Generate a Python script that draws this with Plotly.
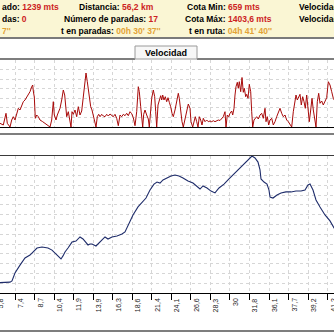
import plotly.graph_objects as go

# ---------------------------------------------------------------------------
# Route data: point index along the track, elevation (m) and speed (km/h)
# ---------------------------------------------------------------------------
elev_idx = [-10, 0, 6, 10, 12, 15, 20, 25, 30, 34, 37, 42, 48, 52, 55, 58, 61, 63,
            65, 68, 72, 76, 80, 83, 86, 88, 90, 92, 96, 100, 105, 108, 112, 117,
            122, 125, 128, 133, 138, 142, 146, 150, 154, 157, 160, 163, 167, 171,
            175, 179, 183, 188, 193, 197, 200, 203, 207, 211, 215, 219, 224, 229,
            234, 239, 244, 249, 252, 255, 258, 260, 261, 264, 267, 269, 270, 273,
            277, 281, 286, 291, 296, 301, 305, 308, 310, 313, 316, 320, 325, 330,
            334, 340]
elev_m = [659, 660, 661, 664, 671, 718, 764, 806, 823, 845, 864, 870, 864, 852, 835,
          815, 800, 818, 841, 864, 899, 905, 929, 917, 894, 882, 888, 888, 876, 899,
          929, 917, 929, 935, 946, 958, 993, 1058, 1105, 1128, 1157, 1204, 1239,
          1251, 1245, 1263, 1275, 1286, 1292, 1286, 1275, 1257, 1245, 1228, 1210,
          1228, 1216, 1198, 1187, 1216, 1239, 1269, 1298, 1327, 1357, 1386, 1403.6,
          1392, 1368, 1322, 1269, 1251, 1239, 1204, 1163, 1157, 1175, 1187, 1193,
          1193, 1198, 1198, 1204, 1234, 1239, 1204, 1146, 1105, 1058, 1023, 982, 935]

speed_idx = [-5, 0, 3.3, 6, 7.3, 10, 11.7, 13.3, 15, 16.7, 18.3, 20, 21.7, 23.3, 25,
             26.7, 28.3, 30, 31.7, 32.7, 33.3, 34.3, 35.3, 36.7, 38.3, 40, 42.7, 45,
             47.3, 50, 51.7, 53.3, 54.3, 56, 57.3, 58.7, 60, 61.7, 63.3, 64.7, 66,
             66.7, 68.3, 70, 71, 72, 73.3, 75, 76.7, 78.3, 80, 81.7, 83.3, 84.7, 86,
             87.3, 88.3, 89.3, 90.7, 92, 93.3, 95, 96, 97.3, 98.7, 100, 101.7, 103.3,
             105, 106.7, 108.3, 110, 111.7, 113.3, 115, 116.7, 118.3, 120, 121.7,
             123.3, 125, 126.7, 128.3, 130, 131.7, 133.3, 135, 136.7, 138.3, 139.3,
             140.7, 141.7, 142.7, 143.7, 145, 146.7, 148.3, 149.3, 150.3, 151.7,
             153.3, 154.7, 155.7, 156.7, 158, 159.3, 160.7, 161.7, 162.7, 164, 165.3,
             166.7, 168, 169.3, 170.7, 172, 173.3, 175, 176.7, 178.3, 179.3, 180.7,
             182, 183.3, 185, 186.7, 188.3, 190, 191, 192.7, 194, 195.3, 196.7, 198,
             199.3, 200.7, 202, 203.3, 205, 206.7, 208.3, 210, 211.7, 213.3, 215,
             216.7, 218.3, 220, 221.7, 223.3, 225, 226, 227.3, 228.7, 230, 231.7,
             232.7, 234, 235, 236, 237.3, 238.3, 239.3, 240.7, 242, 243.3, 244.3,
             245.7, 246.7, 248, 249.3, 250.7, 251.7, 252.7, 254, 255.3, 256.7, 258.3,
             260, 261.7, 263.3, 265, 266, 267.3, 268.7, 270, 271.7, 273.3, 275,
             276.7, 278.3, 280, 281.7, 283.3, 285, 286.7, 288.3, 290, 291.7, 293.3,
             295, 296, 297.3, 298.7, 300, 301.3, 302.7, 304, 305.3, 306.7, 308,
             309.3, 310.7, 312, 313.3, 314.7, 316, 317.3, 318.7, 320, 321.7, 323.3,
             325, 326.7, 328.3, 330, 331.7, 333.3, 338]
speed_kmh = [5, 3.7, 2, 13.7, 3.7, 0, 7, 10.3, 7, 13.7, 18.7, 17, 22, 25.3, 27, 30.3,
             32, 35.3, 40.3, 42, 36, 30, 8.7, 12, 10.3, 7, 5.3, 3.7, 2, 0, 7, 25.3,
             12, 7, 12, 15.3, 18.7, 27, 37, 32, 18.7, 10.3, 15.3, 7, 0, 15.3, 12.7,
             17, 10.3, 20.3, 12, 16, 30.3, 37, 54, 45.3, 38.7, 28.7, 20.3, 17, 10.3,
             5.3, 0, 10.3, 12.7, 10.3, 12.7, 11, 10.3, 12.7, 11, 13, 12, 10.3, 12.7,
             8.7, 1.3, 12, 10.3, 12.7, 11.3, 13.7, 11.3, 15.3, 13.3, 9.3, 1.3, 15.3,
             40.3, 35.3, 20.3, 8.7, 0, 12.7, 17, 12, 8, 0, 12, 28.7, 37, 30.3, 15.3,
             0, 22, 27, 31.3, 27, 32, 27, 30.3, 25.3, 29.3, 24.7, 20.3, 13.7, 10.3,
             17, 25.3, 33.7, 28.7, 15.3, 5.3, 0, 7, 15.3, 23, 18.7, 5.3, 0, 7, 10.3,
             5.3, 0, 10.3, 7, 2, 8.7, 5.3, 7, 5.3, 6, 5.3, 6.3, 5.3, 6, 7, 6.5, 8.7,
             10.3, 15.3, 0, 12, 10.3, 13.7, 16, 12, 18.7, 32, 40.3, 44.7, 38.7, 45.3,
             35.3, 49.5, 34.7, 38.7, 30.3, 32.7, 28.7, 42.7, 35.3, 15.3, 0, 7, 8.7,
             10.3, 8, 12, 13.7, 8.7, 18.7, 5.3, 10.3, 2, 7, 8.7, 2, 5.3, 10.3, 13.7,
             18.7, 13.7, 10.3, 12, 7, 5.3, 2, 0, 15.3, 27, 32, 27, 29.3, 32.7, 22,
             30.3, 25.3, 18.7, 32, 17, 5.3, 17, 28.7, 17, 5.3, 0, 25.3, 33.7, 23.7,
             26, 22, 26, 29.3, 45.3, 42, 35.3, 28.7, 20]

# Distance (km) at each marker under the profile
dist_labels = ["5,8", "7,4", "8,7", "10,4", "11,9", "13,9", "16,3", "18,6", "21,4",
               "24,1", "26,6", "28,3", "30", "31,8", "36,1", "37,7", "39,2", "41,2"]

# Summary panel entries: (label, value, value colour key)
summary = [
    ("ado:", "1239 mts", "red"), ("Distancia:", "56,2 km", "red"),
    ("Cota Min:", "659 mts", "red"), ("Velocidad", "", "red"),
    ("das:", "0", "red"), ("Número de paradas:", "17", "red"),
    ("Cota Máx:", "1403,6 mts", "red"), ("Velocidad", "", "red"),
    ("", "7''", "time"), ("t en paradas:", "00h 30' 37''", "time"),
    ("t en ruta:", "04h 41' 40''", "time"),
]

# ---------------------------------------------------------------------------
# Layout helpers
# ---------------------------------------------------------------------------
W = H = 334
def ry(px):
    """Pixel row from the top -> paper y."""
    return 1 - px / H

def rx(px):
    return px / W

COLORS = {"red": "#CC2222", "time": "#E2A236"}
FONT = "Liberation Sans, Arial, sans-serif"

tick_first, tick_step = -4.54, 19.54
tick_pos = [tick_first + tick_step * k for k in range(len(dist_labels))]

ELEV_TOP, ELEV_BOT = 156, 293
VEL_TOP, VEL_BOT = 60, 127
x_range = [0, W]
elev_range = [600.4, 1403.6]
vel_range = [0, 67]

fig = go.Figure()
fig.add_trace(go.Scatter(x=speed_idx, y=speed_kmh, xaxis="x2", yaxis="y2",
                         mode="lines", line=dict(color="#A80A0A", width=1),
                         hoverinfo="skip"))
fig.add_trace(go.Scatter(x=elev_idx, y=elev_m, xaxis="x", yaxis="y",
                         mode="lines", line=dict(color="#1E2C6A", width=1.1),
                         hoverinfo="skip"))

grid = dict(showgrid=True, gridcolor="#D6D6D6", griddash="dot", gridwidth=1,
            zeroline=False)

fig.update_layout(
    width=W, height=H, margin=dict(l=0, r=0, t=0, b=0),
    paper_bgcolor="white", plot_bgcolor="white", showlegend=False,
    xaxis=dict(domain=[0, 1], range=x_range, anchor="y", tickmode="array",
               tickvals=tick_pos, showticklabels=False, ticks="outside",
               ticklen=6, tickcolor="#000000", tickwidth=1,
               showline=True, linecolor="#000000", linewidth=1, **grid),
    yaxis=dict(domain=[ry(ELEV_BOT), ry(ELEV_TOP)], range=elev_range,
               tick0=elev_range[0], dtick=(elev_range[1] - elev_range[0]) / 14,
               showticklabels=False, ticks="", **grid),
    xaxis2=dict(domain=[0, 1], range=x_range, anchor="y2", tickmode="array",
                tickvals=tick_pos, showticklabels=False, ticks="",
                showline=True, linecolor="#000000", linewidth=1, **grid),
    yaxis2=dict(domain=[ry(VEL_BOT), ry(VEL_TOP)], range=vel_range,
                tick0=0, dtick=(vel_range[1] - vel_range[0]) / 7,
                showticklabels=False, ticks="", **grid),
)

shapes = [
    # summary panel
    dict(type="rect", xref="paper", yref="paper", x0=0, x1=1, y0=ry(38), y1=1,
         fillcolor="#FAF6D4", line=dict(width=0), layer="below"),
    dict(type="line", xref="paper", yref="paper", x0=0, x1=1, y0=ry(38), y1=ry(38),
         line=dict(color="#7A7A7A", width=2)),
    # tab header line and tab box
    dict(type="line", xref="paper", yref="paper", x0=0, x1=rx(135), y0=ry(59), y1=ry(59),
         line=dict(color="#7E7E7E", width=2)),
    dict(type="line", xref="paper", yref="paper", x0=rx(197), x1=1, y0=ry(59), y1=ry(59),
         line=dict(color="#7E7E7E", width=2)),
    dict(type="rect", xref="paper", yref="paper", x0=rx(135), x1=rx(197),
         y0=ry(59), y1=ry(46), fillcolor="#F7F7F7",
         line=dict(color="#9A9A9A", width=1)),
    # separator under the speed chart
    dict(type="line", xref="paper", yref="paper", x0=0, x1=1, y0=ry(134), y1=ry(134),
         line=dict(color="#7E7E7E", width=2)),
    # frame top of the elevation chart
    dict(type="line", xref="paper", yref="paper", x0=0, x1=1,
         y0=ry(ELEV_TOP - 0.5), y1=ry(ELEV_TOP - 0.5),
         line=dict(color="#3A3A3A", width=1)),
    # bottom separator
    dict(type="line", xref="paper", yref="paper", x0=0, x1=1, y0=ry(331), y1=ry(331),
         line=dict(color="#7E7E7E", width=2)),
]
fig.update_layout(shapes=shapes)

annotations = []
# summary text placement (left edge px, row centre px)
cell_pos = [(0, 7), (77, 7), (185, 7), (297, 7),
            (0, 19), (62, 19), (183, 19), (297, 19),
            (0, 31.5), (59, 31.5), (187, 31.5)]
for (label, value, ckey), (px, pyy) in zip(summary, cell_pos):
    parts = []
    if label:
        parts.append(label)
    if value:
        parts.append(f"<span style='color:{COLORS[ckey]}'>{value}</span>")
    annotations.append(dict(
        xref="paper", yref="paper", x=rx(px), y=ry(pyy), xanchor="left",
        yanchor="middle", showarrow=False, text="<b>" + " ".join(parts) + "</b>",
        font=dict(family=FONT, size=8.5, color="#000000")))

annotations.append(dict(
    xref="paper", yref="paper", x=rx(166), y=ry(52.5), xanchor="center",
    yanchor="middle", showarrow=False, text="<b>Velocidad</b>",
    font=dict(family=FONT, size=9, color="#000000")))

# distance markers under the elevation axis (paper-referenced so the partly
# visible first and last markers are still drawn at the frame edges)
for pos, lab in zip(tick_pos, dist_labels):
    xp = (pos - x_range[0]) / (x_range[1] - x_range[0])
    annotations.append(dict(
        xref="paper", yref="paper", x=xp, y=ry(296), xanchor="center",
        yanchor="top", xshift=5, showarrow=False, text=lab, textangle=-90,
        font=dict(family=FONT, size=7, color="#222222")))

fig.update_layout(annotations=annotations)

fig.write_html("out.html", config={"displayModeBar": False})
